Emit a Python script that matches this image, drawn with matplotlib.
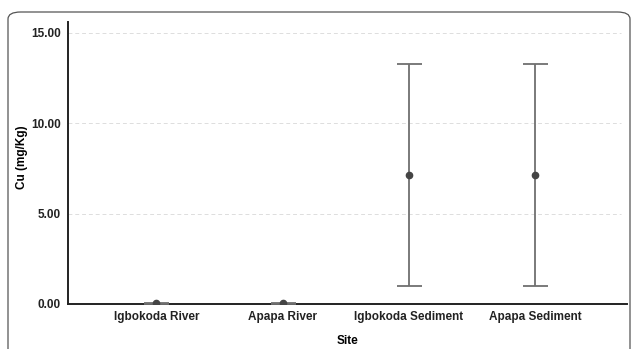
import matplotlib
matplotlib.use("Agg")
import matplotlib.pyplot as plt
from matplotlib.patches import FancyBboxPatch

plt.rcParams["font.family"] = ["Liberation Sans", "DejaVu Sans"]

sites = ["Igbokoda River", "Apapa River", "Igbokoda Sediment", "Apapa Sediment"]
means = [0.05, 0.05, 7.12, 7.12]
lower = [0.02, 0.02, 1.0, 1.0]
upper = [0.08, 0.08, 13.25, 13.25]

fig = plt.figure(figsize=(6.37, 3.49), dpi=100)

# rounded panel border
border = FancyBboxPatch((8 / 637, -0.05), 622 / 637, 1 - 12 / 349 + 0.05,
                        boxstyle="round,pad=0,rounding_size=0.02",
                        transform=fig.transFigure, fill=False,
                        edgecolor="#555555", linewidth=0.9)
fig.patches.append(border)

ax = fig.add_axes([68 / 637, 1 - 304 / 349, 559 / 637, 282 / 349])

x = list(range(len(sites)))
yerr = [[m - lo for m, lo in zip(means, lower)],
        [hi - m for m, hi in zip(means, upper)]]
ax.errorbar(x, means, yerr=yerr, fmt="o", ms=4.5,
            mfc="#444444", mec="#444444", ecolor="#707070",
            elinewidth=1.3, capsize=9, capthick=1.3, zorder=3)

ax.set_xlim(-0.7, 3.73)
ax.set_ylim(0, 15.6)
ax.set_yticks([0, 5, 10, 15])
ax.set_yticklabels(["0.00", "5.00", "10.00", "15.00"])
ax.set_xticks(x)
ax.set_xticklabels(sites)

for t in [5, 10, 15]:
    ax.axhline(t, color="#dddddd", lw=0.7, ls=(0, (4, 3)), xmax=0.99, zorder=1)

for s in ["top", "right"]:
    ax.spines[s].set_visible(False)
for s in ["left", "bottom"]:
    ax.spines[s].set_linewidth(1.4)
    ax.spines[s].set_color("#222222")

ax.tick_params(axis="both", length=0, labelsize=8.5, pad=5)
for lab in ax.get_xticklabels() + ax.get_yticklabels():
    lab.set_fontweight("bold")
    lab.set_color("#222222")

ax.set_xlabel("Site", fontsize=8.5, fontweight="bold", labelpad=9)
ax.set_ylabel("Cu (mg/Kg)", fontsize=8.5, fontweight="bold")
ax.yaxis.set_label_coords(-0.072, 0.52)

fig.savefig("out.png", dpi=100)
